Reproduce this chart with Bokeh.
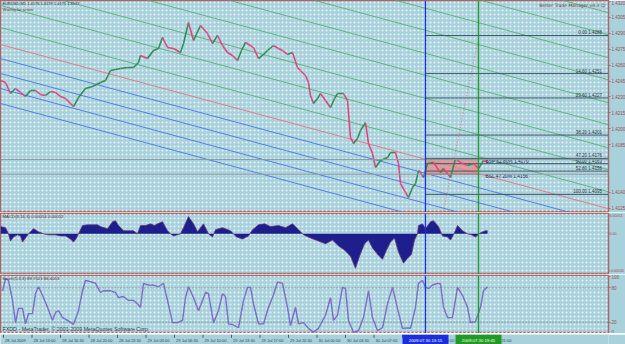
from bokeh.plotting import figure
from bokeh.models import Range1d, Span, Slope, Label, BoxAnnotation, FixedTicker, PrintfTickFormatter
from bokeh.layouts import column
from bokeh.embed import file_html
from bokeh.resources import INLINE
from bokeh.core.properties import value

# ---------------- data ----------------
price_bar = [0, 2.5, 5, 7.5, 10, 12.5, 15, 17.5, 20, 22.5,
             25, 27.5, 30, 32.5, 35, 36.5, 39, 42.5, 46, 50,
             52.5, 55, 57.5, 60, 63.5, 66.5, 69, 70, 73.5, 76.5,
             79, 81, 83.5, 86.5, 90, 91.5, 94, 96.5, 100, 103.5,
             106, 108.5, 111, 113.5, 116, 118.5, 120.5, 122.5, 126.5, 129,
             131.5, 133.5, 136.5, 139, 141, 143.5, 146, 148.5, 150, 152.5,
             154, 155, 156.5, 158.5, 160, 162.5, 165, 167, 168.5, 171.5,
             173.5, 175, 176.5, 178.5, 180, 182.5, 184, 186, 187.5, 190,
             193.5, 195, 197.5, 199, 200, 202.5, 204, 206, 207.5, 209,
             210, 211.5, 213.5, 216.5, 220, 221.5, 225, 227.5, 230, 233.5,
             236.5, 239, 241.5, 244]
price_close = [1.42455, 1.42436, 1.42332, 1.42379, 1.42342, 1.42304, 1.42360, 1.42360, 1.42323, 1.42313,
               1.42351, 1.42342, 1.42304, 1.42285, 1.42238, 1.42209, 1.42294, 1.42379, 1.42398, 1.42436,
               1.42455, 1.42549, 1.42559, 1.42568, 1.42578, 1.42578, 1.42625, 1.42691, 1.42662, 1.42738,
               1.42757, 1.42861, 1.42766, 1.42757, 1.42719, 1.42804, 1.43002, 1.42832, 1.42974, 1.42898,
               1.42804, 1.42880, 1.42785, 1.42719, 1.42691, 1.42644, 1.42738, 1.42814, 1.42766, 1.42662,
               1.42700, 1.42738, 1.42785, 1.42757, 1.42738, 1.42700, 1.42719, 1.42578, 1.42549, 1.42502,
               1.42436, 1.42313, 1.42238, 1.42285, 1.42332, 1.42266, 1.42200, 1.42285, 1.42332, 1.42332,
               1.42266, 1.41917, 1.41860, 1.41907, 1.41983, 1.42058, 1.41860, 1.41766, 1.41634, 1.41700,
               1.41728, 1.41775, 1.41775, 1.41671, 1.41482, 1.41398, 1.41350, 1.41445, 1.41482, 1.41605,
               1.41586, 1.41539, 1.41671, 1.41681, 1.41586, 1.41624, 1.41539, 1.41718, 1.41681, 1.41652,
               1.41671, 1.41624, 1.41700, 1.41681]

macd_bar = [0, 2.5, 4, 5, 6.5, 8.5, 10, 11, 12.5, 14, 16.5, 19, 21.5, 24, 27.5, 30, 32.5, 35, 36.5, 38,
            39, 41, 43.5, 46, 48.5, 50, 53.5, 56, 57.5, 59, 61.5, 66.5, 68.5, 70, 72.5, 75, 77, 78.5, 81, 83.5,
            85, 86.5, 90, 91.5, 94, 96.5, 98.5, 101.5, 104, 106, 107.5, 111, 115, 118, 121, 124, 126, 129, 132, 135,
            139, 142.5, 146, 149, 151.5, 155, 159, 162.5, 166, 169, 172, 175, 177.5, 179.5, 182, 184, 186, 188.5, 191, 193,
            195, 197, 199, 201.5, 203.5, 205.5, 207, 208.5, 209, 211, 212.5, 215, 216.5, 219, 221, 223.5, 225, 226.5, 228.5, 231,
            233.5, 235.5, 237.5, 240, 242.5, 243.5]
macd_e5 = [21, 18, 0, -21, -9, -3, -6, -24, -12, 0, 15, 6, 0, -3, -3, -6, -6, -15, -24, -12,
           0, 24, 26, 26, 26, 21, 15, 35, 38, 24, 9, 9, 0, 24, 24, 29, 24, 29, 35, 9,
           0, -6, 0, 18, 50, 29, 6, 29, 0, -9, 12, 18, 9, -9, -15, -6, 12, 26, 29, 21,
           24, 18, 29, 12, -3, -12, -21, -29, -18, -35, -47, -65, -100, -65, -29, -18, -41, -59, -74, -47,
           -24, -12, -53, -85, -71, -59, -18, 0, 24, 29, 15, 35, 38, 21, -6, -9, -18, -3, 24, 9,
           0, -3, -9, 3, 9, 9]

stoch_bar = [1, 2.5, 4, 6, 7.5, 9, 11, 12.5, 14, 16, 17.5, 19, 21, 23.5, 26, 27.5, 29, 31, 33.5, 36.5,
             39, 41, 42.5, 45, 47.5, 50, 51.5, 55, 57.5, 59, 61.5, 64, 66.5, 68.5, 70, 71.5, 74, 76.5, 79, 81.5,
             83.5, 86, 88.5, 91, 92.5, 94, 96.5, 99, 101, 102.5, 104, 106.5, 109, 111, 112.5, 114, 116.5, 119, 121.5, 123.5,
             125, 126.5, 129, 131.5, 134, 136, 138.5, 141, 143.5, 145, 147.5, 149, 151.5, 154, 156.5, 159, 162.5, 165, 166.5, 168.5,
             171, 172.5, 174, 176.5, 179, 181.5, 184, 186, 188.5, 191, 193.5, 196, 198.5, 201, 204, 205, 207.5, 209, 211, 212.5,
             214, 216, 218.5, 220, 221.5, 223.5, 226, 228.5, 231, 233.5, 235, 237.5, 240, 241.5, 243.5]
stoch_main = [75, 96, 93, 58, 19, 44, 44, 17, 35, 35, 70, 82, 67, 46, 23, 37, 40, 28, 23, 16,
              40, 75, 93, 91, 88, 72, 75, 75, 72, 63, 65, 58, 58, 52, 46, 88, 85, 85, 82, 88,
              58, 19, 19, 23, 63, 82, 63, 40, 58, 72, 70, 19, 40, 70, 65, 17, 15, 10, 58, 81,
              81, 52, 17, 17, 46, 63, 90, 88, 46, 14, 46, 17, 19, 9, 2, 9, 32, 63, 23, 32,
              81, 79, 23, 2, 5, 28, 75, 28, 5, 10, 52, 81, 44, 9, 10, 9, 46, 88, 93, 81,
              79, 85, 88, 87, 46, 28, 28, 81, 67, 46, 19, 21, 46, 75, 82]

channel_gradient = -0.000051
green_intercepts = [1.42955, 1.43163, 1.43370, 1.43588, 1.43795, 1.44012, 1.44220, 1.44437, 1.44645]
red_intercepts = [1.42795]
blue_intercepts = [1.42662, 1.42521, 1.42379, 1.42238]

fib_levels = ["0.00", "14.60", "23.60", "38.20", "47.20", "50.00", "52.80", "100.00"]
fib_prices = [1.4288, 1.4252, 1.4229, 1.4194, 1.4172, 1.4167, 1.4160, 1.4138]
fib_texts = ["0.00   1.4288", "14.60   1.4251", "23.60   1.4227", "38.20   1.4201",
             "47.20   1.4176", "50.00   1.4163", "52.80   1.4156", "100.00   1.4095"]

bsp_price = 1.4171
bsl_price = 1.4157
start_bar = 212.5
end_bar = 239
connector_bar = [221.5, 238.5]
connector_price = [1.41228, 1.42814]

price_ticks = [1.4320, 1.4305, 1.4290, 1.4275, 1.4260, 1.4245, 1.4230, 1.4215,
               1.4200, 1.4185, 1.4140, 1.4125]
macd_ticks = [0.00053, 0.0, -0.00106]
macd_tick_labels = ["0.00053", "0.00", "-0.00106"]
stoch_ticks = [100, 80, 20, 0]

time_labels = ["28 Jul 2009", "28 Jul 13:00", "28 Jul 16:30", "28 Jul 20:00", "28 Jul 23:30",
               "29 Jul 03:00", "29 Jul 06:30", "29 Jul 10:00", "29 Jul 13:30", "29 Jul 17:00",
               "29 Jul 20:30", "30 Jul 00:00", "30 Jul 03:30", "30 Jul 07:00", "30 Jul 10:30",
               "30 Jul 14:00", "30 Jul 17:30", "30 Jul 21:00"]
label_first = 1.5
label_step = 14.25
start_time_text = "2009.07.30 13:15"
end_time_text = "2009.07.30 19:45"

# ---------------- style ----------------
BG = "#a9d1dc"
FONT = "Liberation Sans"
AXC = "#a86868"
X_START, X_END = 0, 304
P_TOP, P_BOT = 1.4321, 1.41209

xr = Range1d(X_START, X_END)


def make_fig(fh, yr, top=0, label_size="4.5px"):
    p = figure(frame_width=608, frame_height=fh, x_range=xr, y_range=yr,
               output_backend="svg", toolbar_location=None,
               x_axis_location=None, y_axis_location="right",
               min_border_left=0, min_border_right=17, min_border_top=top, min_border_bottom=0)
    p.grid.visible = False
    p.background_fill_color = BG
    p.border_fill_color = BG
    p.outline_line_color = AXC
    p.outline_line_width = 1.5
    p.add_layout(BoxAnnotation(fill_alpha=0, line_alpha=0, hatch_pattern="dot",
                               hatch_color="white", hatch_scale=4, hatch_weight=0.6,
                               hatch_alpha=0.75, level="underlay"))
    ax = p.yaxis[0]
    ax.axis_line_color = AXC
    ax.major_tick_line_color = AXC
    ax.minor_tick_line_color = None
    ax.major_tick_in = 0
    ax.major_tick_out = 2
    ax.major_label_standoff = 1
    ax.major_label_text_font = FONT
    ax.major_label_text_font_size = label_size
    ax.major_label_text_color = "#9a4a4a"
    return p


def vlines(p):
    p.add_layout(Span(location=start_bar, dimension="height", line_color="#1a2ee0", line_width=1.3))
    p.add_layout(Span(location=end_bar, dimension="height", line_color="#1f9a24", line_width=1.3))


# ---------------- main price panel ----------------
pm = make_fig(212, Range1d(P_BOT, P_TOP))
pm.yaxis.ticker = FixedTicker(ticks=price_ticks)
pm.yaxis.formatter = PrintfTickFormatter(format="%.4f")

for b in green_intercepts:
    pm.add_layout(Slope(gradient=channel_gradient, y_intercept=b, line_color="#5cb47e",
                        line_width=1, level="underlay"))
for b in red_intercepts:
    pm.add_layout(Slope(gradient=channel_gradient, y_intercept=b, line_color="#e27a88",
                        line_width=1, level="underlay"))
for b in blue_intercepts:
    pm.add_layout(Slope(gradient=channel_gradient, y_intercept=b, line_color="#4f7ee6",
                        line_width=1, level="underlay"))

pm.add_layout(Span(location=bsp_price, dimension="width", line_color="#8a9aa2", line_width=1))
pm.add_layout(Span(location=bsl_price, dimension="width", line_color="#8a9aa2", line_width=1))

pm.quad(left=[start_bar], right=[end_bar], bottom=[bsl_price], top=[bsp_price],
        fill_color="#e48a8a", fill_alpha=0.75, line_color="#c04a4a", line_width=1)

pm.segment(x0=[start_bar] * len(fib_prices), x1=[X_END] * len(fib_prices),
           y0=fib_prices, y1=fib_prices, line_color="#3d5566", line_width=1)
pm.text(x=[X_END - 2] * len(fib_prices), y=fib_prices, text=fib_texts,
        text_align="right", text_baseline="bottom", text_font=value(FONT),
        text_font_size="4.5px", text_color="#2a3440")

pm.line(connector_bar, connector_price, line_color="#e07080", line_dash="1 2", line_width=1)

x0 = price_bar[:-1]
x1 = price_bar[1:]
y0 = price_close[:-1]
y1 = price_close[1:]
cols = ["#e2407c" if b < a else "#2e8a52" for a, b in zip(y0, y1)]
pm.segment(x0=x0, y0=y0, x1=x1, y1=y1, line_color=cols, line_width=1.5)

vlines(pm)

pm.text(x=[end_bar + 3.5, end_bar + 3.5], y=[bsp_price, bsl_price],
        text=["BSP 52.80%   1.4170", "BSL 47.20%   1.4156"],
        text_align="left", text_baseline="top", text_font=value(FONT),
        text_font_size="4.8px", text_color="#1e2a60")

pm.add_layout(Label(x=1, y=P_TOP - 0.00005, text="EURUSD,M1  1.4176 1.4179 1.4175 1.4177",
                    text_baseline="top", text_font=FONT, text_font_size="4px", text_color="#202830"))
pm.add_layout(Label(x=1, y=P_TOP - 0.0006, text="Waiting for action",
                    text_baseline="top", text_font=FONT, text_font_size="4px", text_color="#703030"))
pm.add_layout(Label(x=X_END - 1.5, y=P_TOP - 0.0002, text="Better Trade Manager v4.3 \u263a",
                    text_align="right", text_baseline="top", text_font="DejaVu Sans",
                    text_font_size="4.5px", text_color="#703838"))
pm.add_layout(Label(x=X_END, y=bsp_price, x_offset=1, text="1.4170", text_baseline="middle",
                    text_font=FONT, text_font_size="4.5px", text_color="white",
                    background_fill_color="#9c5a36"))
pm.add_layout(Label(x=X_END, y=bsl_price, x_offset=1, text="1.4156", text_baseline="middle",
                    text_font=FONT, text_font_size="4.5px", text_color="white",
                    background_fill_color="#9c5a36"))

# ---------------- MACD panel ----------------
pmacd = make_fig(61, Range1d(-0.00118, 0.00059), top=1, label_size="3.6px")
pmacd.yaxis.ticker = FixedTicker(ticks=macd_ticks)
pmacd.yaxis.major_label_overrides = {t: s for t, s in zip(macd_ticks, macd_tick_labels)}
pmacd.yaxis.major_tick_out = 1
pmacd.yaxis.major_label_standoff = 0
macd_vals = [v * 1e-5 for v in macd_e5]
pmacd.varea(x=macd_bar, y1=0, y2=macd_vals, fill_color="#1c1f8c")
pmacd.line(macd_bar, macd_vals, line_color="#6a2f7a", line_width=0.8)
vlines(pmacd)
pmacd.add_layout(Label(x=1, y=0.00057, text="MACD(8,16,3) 0.00054 0.00052",
                       text_baseline="top", text_font=FONT, text_font_size="4.3px",
                       text_color="#5a2a2a"))

# ---------------- Stochastic panel ----------------
pst = make_fig(58, Range1d(0, 101.75), top=1)
pst.yaxis.ticker = FixedTicker(ticks=stoch_ticks)
pst.add_layout(Span(location=80, dimension="width", line_color="#5a7a84", line_dash="1 2", line_width=1))
pst.add_layout(Span(location=20, dimension="width", line_color="#5a7a84", line_dash="1 2", line_width=1))
pst.line(stoch_bar, stoch_main, line_color="#5a74d8", line_width=1.3)
pst.line(stoch_bar, stoch_main, line_color="#e0508c", line_dash="1 3", line_width=1.3)
vlines(pst)
pst.add_layout(Label(x=1, y=100, text="Stoch(5,3,3) 89.7521 86.4053",
                     text_baseline="top", text_font=FONT, text_font_size="4.3px",
                     text_color="#5a2a2a"))
pst.add_layout(Label(x=1, y=2, text="FXDD - MetaTrader, \u00a9 2001-2009 MetaQuotes Software Corp.",
                     text_baseline="bottom", text_font=FONT, text_font_size="5.3px",
                     text_color="#2a3a44"))

# ---------------- time strip ----------------
ptime = figure(frame_width=608, frame_height=11, x_range=xr, y_range=Range1d(0, 1),
               output_backend="svg", toolbar_location=None,
               x_axis_location=None, y_axis_location=None,
               min_border_left=0, min_border_right=17, min_border_top=0, min_border_bottom=0)
ptime.grid.visible = False
ptime.background_fill_color = BG
ptime.border_fill_color = BG
ptime.outline_line_color = None
tick_x = [label_first + label_step * i for i in range(len(time_labels))]
ptime.segment(x0=tick_x, x1=tick_x, y0=[1] * len(tick_x), y1=[0.7] * len(tick_x),
              line_color="#4a5a66", line_width=1)
ptime.text(x=[t + 0.8 for t in tick_x], y=[0.45] * len(tick_x), text=time_labels,
           text_align="left", text_baseline="middle", text_font=value(FONT),
           text_font_size="4px", text_color="#34404c")
ptime.rect(x=[start_bar, end_bar], y=[0.5, 0.5], width=23, height=1,
           fill_color=["#1a2ee0", "#1f9a24"], line_color=None)
ptime.text(x=[start_bar, end_bar], y=[0.5, 0.5], text=[start_time_text, end_time_text],
           text_align="center", text_baseline="middle", text_font=value(FONT),
           text_font_size="4.3px", text_color="white")

layout = column(pm, pmacd, pst, ptime, spacing=0)
open("out.html", "w").write(file_html(layout, INLINE))
